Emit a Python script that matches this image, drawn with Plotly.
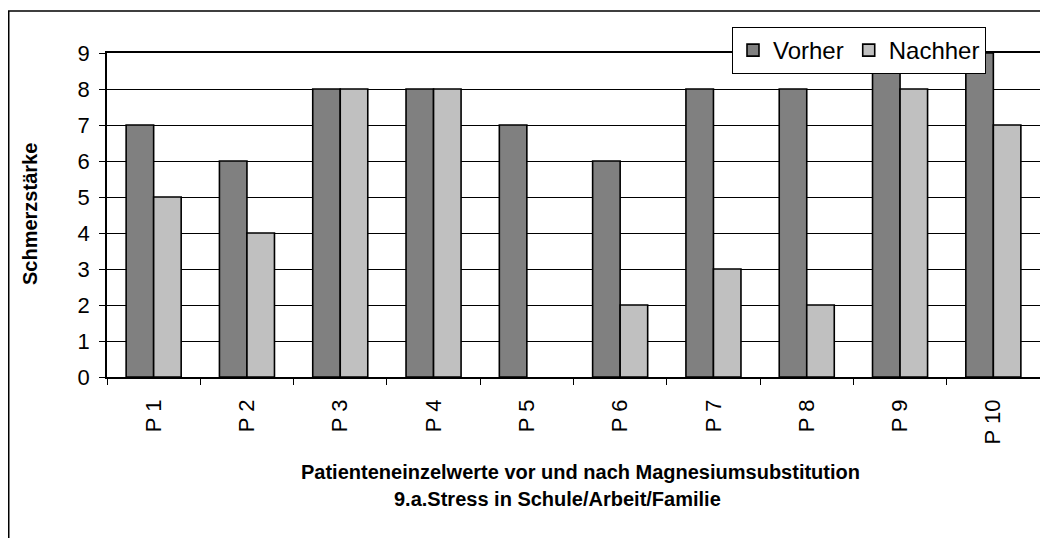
import plotly.graph_objects as go

categories = ["P 1", "P 2", "P 3", "P 4", "P 5", "P 6", "P 7", "P 8", "P 9", "P 10"]
vorher = [7, 6, 8, 8, 7, 6, 8, 8, 9, 9]
nachher = [5, 4, 8, 8, 0, 2, 3, 2, 8, 7]
y_ticks = [0, 1, 2, 3, 4, 5, 6, 7, 8, 9]

# page has an 8px body margin; figure drawn at (8, 8)
OFF = 8
W, H = 1048 - OFF, 538 - OFF
L, R, T, B = 107 - OFF, 1040 - OFF, 53 - OFF, 377 - OFF
pw, ph = R - L, B - T

def px(x):  # screen x -> paper
    return (x - OFF - L) / pw

def py(y):  # screen y -> paper
    return (B - (y - OFF)) / ph

def outline(vals):
    return [1.6 if v else 0 for v in vals]

fig = go.Figure()
fig.add_trace(go.Bar(x=categories, y=vorher, name="Vorher",
                     marker=dict(color="#808080", line=dict(color="black", width=outline(vorher)))))
fig.add_trace(go.Bar(x=categories, y=nachher, name="Nachher",
                     marker=dict(color="#C0C0C0", line=dict(color="black", width=outline(nachher)))))

font = "Arial, Liberation Sans, sans-serif"
fig.update_layout(
    width=W, height=H,
    margin=dict(l=L, r=W - R, t=T, b=H - B, autoexpand=False),
    paper_bgcolor="white", plot_bgcolor="white",
    barmode="group", bargap=0.41, bargroupgap=0,
    font=dict(family=font, color="black", size=21),
    showlegend=True,
    legend=dict(orientation="h", x=px(732), y=py(27), xanchor="left", yanchor="top",
                bgcolor="white", bordercolor="black", borderwidth=1,
                font=dict(size=24), itemwidth=30, tracegroupgap=0),
    xaxis=dict(type="category", tickangle=-90, ticks="outside", tickson="boundaries",
               ticklen=6, tickcolor="black", showline=True, linecolor="black", linewidth=1.5,
               mirror=True, showgrid=False, tickfont=dict(size=22), ticklabelstandoff=12),
    yaxis=dict(range=[0, 9], tickvals=y_ticks, ticks="outside", ticklen=6, tickcolor="black",
               showline=True, linecolor="black", linewidth=1.5, mirror=True,
               showgrid=True, gridcolor="black", gridwidth=1, zeroline=False,
               tickfont=dict(size=22), ticklabelstandoff=5),
)

fig.add_annotation(text="<b>Schmerzstärke</b>", xref="paper", yref="paper",
                   x=px(30), y=py(214), textangle=-90, showarrow=False,
                   font=dict(size=20), xanchor="center", yanchor="middle")
fig.add_annotation(text="<b>Patienteneinzelwerte vor und nach Magnesiumsubstitution</b>",
                   xref="paper", yref="paper", x=px(580), y=py(472), showarrow=False,
                   font=dict(size=20), xanchor="center", yanchor="middle")
fig.add_annotation(text="<b>9.a.Stress in Schule/Arbeit/Familie</b>",
                   xref="paper", yref="paper", x=px(557), y=py(499), showarrow=False,
                   font=dict(size=20), xanchor="center", yanchor="middle")

fig.add_shape(type="rect", xref="paper", yref="paper",
              x0=px(8.75), x1=px(1080), y0=py(600), y1=py(11),
              line=dict(color="black", width=1.5), layer="below")

fig.write_html("out.html")
